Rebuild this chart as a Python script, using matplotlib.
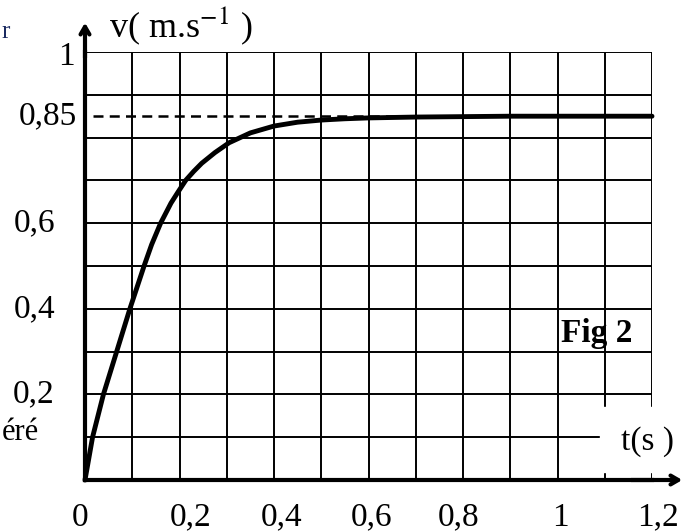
import numpy as np
import matplotlib.pyplot as plt
from matplotlib.patches import Rectangle

plt.rcParams['font.family'] = ['Liberation Serif', 'DejaVu Serif']
plt.rcParams['mathtext.fontset'] = 'stix'

# values: time (s) and speed (m/s)
t = [0, 0.016, 0.039, 0.067, 0.095, 0.110, 0.125, 0.141, 0.160, 0.182, 0.197,
     0.213, 0.23, 0.247, 0.275, 0.305, 0.35, 0.4, 0.45, 0.5, 0.55, 0.6, 0.7, 0.8,
     0.9, 1.0, 1.1, 1.2]
v = [0, 0.1, 0.2, 0.3, 0.4, 0.45, 0.5, 0.55, 0.6, 0.647, 0.673,
     0.7, 0.721, 0.740, 0.765, 0.788, 0.811, 0.827, 0.836, 0.841, 0.844, 0.846, 0.848, 0.849,
     0.85, 0.85, 0.85, 0.85]
v_limit = 0.85

x_labels = ['0', '0,2', '0,4', '0,6', '0,8', '1', '1,2']
x_label_pos = [0, 0.2, 0.4, 0.6, 0.8, 1.0, 1.2]
y_labels = ['0,2', '0,4', '0,6', '0,85', '1']
y_label_pos = [0.2, 0.4, 0.6, 0.85, 1.0]

fig = plt.figure(figsize=(6.96, 5.32), dpi=100)
ax = fig.add_axes([85 / 696, 52 / 532, 567 / 696, 428 / 532])
ax.set_xlim(0, 1.2)
ax.set_ylim(0, 1)

# grid every 0.1
ax.set_xticks(np.arange(0, 1.21, 0.1))
ax.set_yticks(np.arange(0, 1.01, 0.1))
ax.tick_params(length=0, labelbottom=False, labelleft=False)
ax.grid(True, color='black', lw=1.4)
ax.set_axisbelow(True)
for s in ['top', 'right']:
    ax.spines[s].set_visible(False)
for s in ['left', 'bottom']:
    ax.spines[s].set_linewidth(3)

# white patch behind the t(s) label
ax.add_patch(Rectangle((1.09, 0.019), 0.2, 0.152, color='white', zorder=1, clip_on=False))

# axis arrows
ax.annotate('', xy=(0, 1.075), xytext=(0, 0.98), annotation_clip=False,
            arrowprops=dict(arrowstyle='->,head_length=0.55,head_width=0.32', lw=3, color='black'))
ax.annotate('', xy=(1.27, 0), xytext=(1.15, 0), annotation_clip=False,
            arrowprops=dict(arrowstyle='->,head_length=0.55,head_width=0.32', lw=3, color='black'))

# asymptote and curve
ax.plot([0.017, 1.2], [v_limit, v_limit], color='black', lw=1.8, ls=(0, (4, 2.5)), zorder=3)
ax.plot(t, v, color='black', lw=3.5, zorder=4, solid_capstyle='round',
        solid_joinstyle='round', clip_on=False)

# tick labels
x_shift = [-5, 11, 8, 3, -4, 3, 6]
for lab, xp, dx in zip(x_labels, x_label_pos, x_shift):
    ax.annotate(lab, (xp, 0), xytext=(dx * 0.72, -27), textcoords='offset points',
                ha='center', va='center', fontsize=24, annotation_clip=False)
y_right = [-30, -30, -30, -8, -10]
y_dy = [0, 0, 0, 0, -5]
for lab, yp, dx, dy in zip(y_labels, y_label_pos, y_right, y_dy):
    ax.annotate(lab, (0, yp), xytext=(dx * 0.72, dy * 0.72), textcoords='offset points',
                ha='right', va='center', fontsize=24, annotation_clip=False)

ax.text(0.203, 1.06, r'v( m.s$^{-1}$ )', fontsize=26, ha='center', va='center', clip_on=False)
ax.text(1.19, 0.09, 't(s )', fontsize=24, ha='center', va='center', clip_on=False)
ax.text(1.082, 0.343, 'Fig 2', fontsize=24, fontweight='bold', ha='center', va='center')

# cut-off words at the left edge of the scan
fig.text(0.002, (532 - 432) / 532, 'éré', fontsize=22, ha='left', va='center')
fig.text(0.002, (532 - 32) / 532, 'r', fontsize=18, ha='left', va='center', color='#1a2a60')

fig.savefig('out.png', dpi=100)
